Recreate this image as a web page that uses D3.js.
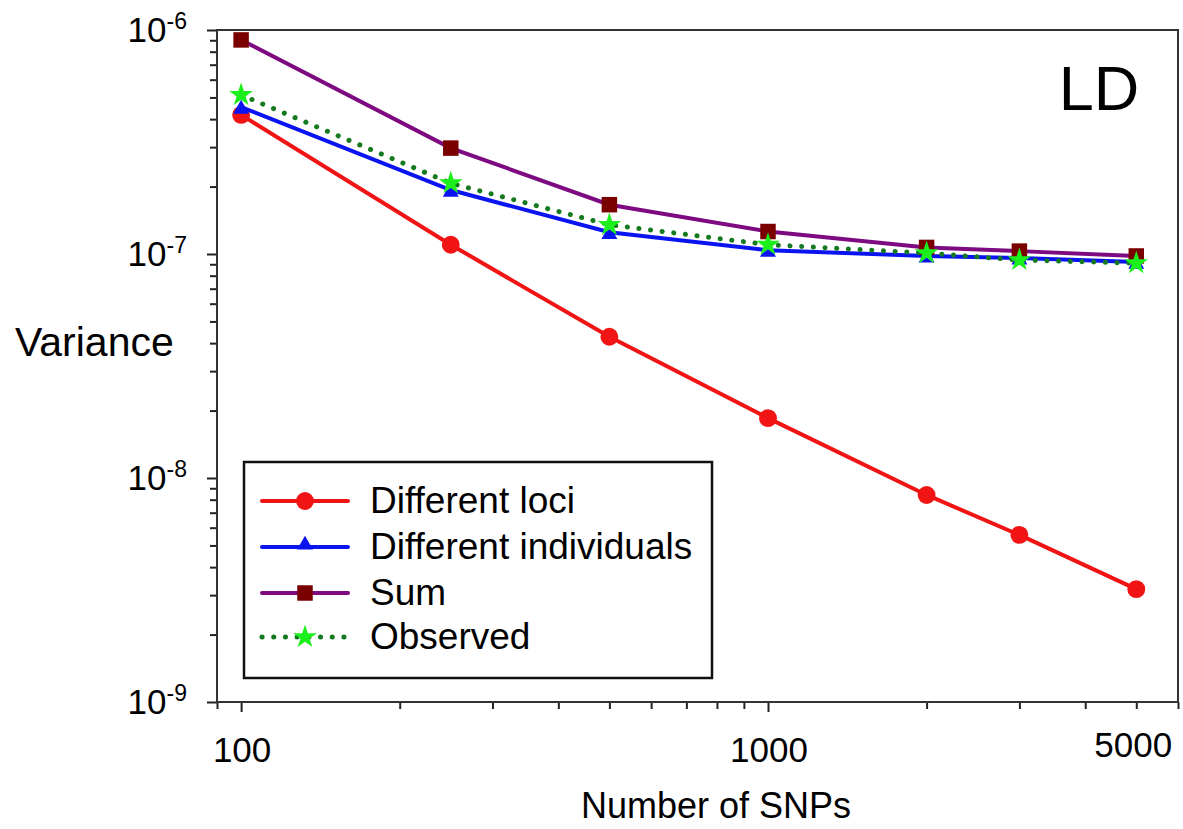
<!DOCTYPE html>
<html>
<head>
<meta charset="utf-8">
<script src="https://cdn.jsdelivr.net/npm/d3@7"></script>
<style>
  body { margin: 0; background: #fff; }
  text { font-family: "Liberation Sans", Arial, sans-serif; fill: #000; }
</style>
</head>
<body>
<svg id="chart" width="1183" height="829"></svg>
<script>
// Number of SNPs on the x axis
const snps = [100, 250, 500, 1000, 2000, 3000, 5000];

// Variance per series
const differentLoci = [4.18e-7, 1.10e-7, 4.27e-8, 1.85e-8, 8.4e-9, 5.57e-9, 3.19e-9];
const differentIndividuals = [4.53e-7, 1.93e-7, 1.25e-7, 1.04e-7, 9.8e-8, 9.6e-8, 9.2e-8];
const sumValues = [9.03e-7, 2.97e-7, 1.66e-7, 1.26e-7, 1.07e-7, 1.03e-7, 9.8e-8];
const observed = [5.13e-7, 2.07e-7, 1.35e-7, 1.10e-7, 1.01e-7, 9.4e-8, 9.1e-8];

const seriesNames = ["Different loci", "Different individuals", "Sum", "Observed"];

const xMajorTicks = [100, 1000, 5000];
const yMajorTicks = [1e-9, 1e-8, 1e-7, 1e-6];
const yExponents = ["-9", "-8", "-7", "-6"];

const svg = d3.select("#chart");

const plotLeft = 217, plotRight = 1178, plotTop = 30, plotBottom = 702;

const x = d3.scaleLog().domain([90, 6000]).range([plotLeft, plotRight]);
const y = d3.scaleLog().domain([1e-9, 1e-6]).range([plotBottom, plotTop]);

// Series styling
const series = [
  { name: seriesNames[0], values: differentLoci, line: "#f01414", fill: "#f01414", symbol: "circle" },
  { name: seriesNames[1], values: differentIndividuals, line: "#0a14f0", fill: "#0a14f0", symbol: "triangle" },
  { name: seriesNames[2], values: sumValues, line: "#7d0a80", fill: "#7a0000", symbol: "square" },
  { name: seriesNames[3], values: observed, line: "#157a1f", fill: "#1cf01c", symbol: "star", dotted: true }
];

const symbolFor = (s) => {
  if (s === "circle") return d3.symbol(d3.symbolCircle, 250)();
  if (s === "triangle") return d3.symbol(d3.symbolTriangle, 110)();
  if (s === "square") return d3.symbol(d3.symbolSquare, 240)();
  return d3.symbol(d3.symbolStar, 175)();
};

// Axes: minor and major ticks
const xMinor = x.ticks().filter((v) => v !== 100 && v !== 1000);
svg.append("g")
  .attr("transform", `translate(0,${plotBottom})`)
  .call(d3.axisBottom(x).tickValues(xMinor).tickSize(7).tickFormat(""))
  .call((g) => g.select(".domain").remove());

svg.append("g")
  .attr("transform", `translate(0,${plotBottom})`)
  .call(d3.axisBottom(x).tickValues([100, 1000]).tickSize(10).tickFormat(""))
  .call((g) => g.select(".domain").remove());

const yMinor = y.ticks().filter((v) => yMajorTicks.indexOf(v) < 0);
svg.append("g")
  .attr("transform", `translate(${plotLeft},0)`)
  .call(d3.axisLeft(y).tickValues(yMinor).tickSize(7).tickFormat(""))
  .call((g) => g.select(".domain").remove());

svg.append("g")
  .attr("transform", `translate(${plotLeft},0)`)
  .call(d3.axisLeft(y).tickValues(yMajorTicks).tickSize(10).tickFormat(""))
  .call((g) => g.select(".domain").remove());

svg.selectAll(".tick line").attr("stroke", "#222").attr("stroke-width", 2);

// Frame
svg.append("rect")
  .attr("x", plotLeft).attr("y", plotTop)
  .attr("width", plotRight - plotLeft).attr("height", plotBottom - plotTop)
  .attr("fill", "none").attr("stroke", "#333").attr("stroke-width", 2);

// X tick labels
svg.append("g").selectAll("text")
  .data(xMajorTicks)
  .join("text")
  .attr("x", (d) => x(d) + (d === 5000 ? -3 : 1))
  .attr("y", (d) => (d === 5000 ? 757 : 762))
  .attr("text-anchor", "middle")
  .attr("font-size", 35)
  .text((d) => d);

// Y tick labels with superscript exponent
const yl = svg.append("g").selectAll("text")
  .data(yMajorTicks)
  .join("text")
  .attr("x", 187)
  .attr("y", (d) => y(d) + 12)
  .attr("text-anchor", "end")
  .attr("font-size", 35);
yl.append("tspan").text("10");
yl.append("tspan")
  .attr("font-size", 23)
  .attr("dy", -13)
  .text((d, i) => yExponents[i]);

// Axis titles
svg.append("text")
  .attr("x", 15).attr("y", 356)
  .attr("font-size", 41)
  .text("Variance");

svg.append("text")
  .attr("x", 716).attr("y", 818)
  .attr("text-anchor", "middle")
  .attr("font-size", 36)
  .text("Number of SNPs");

svg.append("text")
  .attr("x", 1099).attr("y", 110)
  .attr("text-anchor", "middle")
  .attr("font-size", 63)
  .text("LD");

// Lines and markers
const line = d3.line()
  .x((d) => x(d[0]))
  .y((d) => y(d[1]));

series.forEach((s) => {
  const pts = snps.map((v, i) => [v, s.values[i]]);
  const g = svg.append("g");
  g.append("path")
    .datum(pts)
    .attr("d", line)
    .attr("fill", "none")
    .attr("stroke", s.line)
    .attr("stroke-width", s.dotted ? 5 : 4)
    .attr("stroke-linecap", s.dotted ? "round" : "butt")
    .attr("stroke-dasharray", s.dotted ? "0.1 11.6" : null);
  g.selectAll(".m")
    .data(pts)
    .join("path")
    .attr("transform", (d) => `translate(${x(d[0])},${y(d[1]) + (s.symbol === "triangle" ? 2 : 0)})`)
    .attr("d", symbolFor(s.symbol))
    .attr("fill", s.fill);
});

// Legend
const legend = svg.append("g");
legend.append("rect")
  .attr("x", 244).attr("y", 462)
  .attr("width", 468).attr("height", 216)
  .attr("fill", "#fff").attr("stroke", "#111").attr("stroke-width", 2.5);

const legendRows = [501, 547, 593, 637];
series.forEach((s, i) => {
  const ry = legendRows[i];
  legend.append("line")
    .attr("x1", 262).attr("x2", 348)
    .attr("y1", ry).attr("y2", ry)
    .attr("stroke", s.line)
    .attr("stroke-width", s.dotted ? 5 : 4)
    .attr("stroke-linecap", "round")
    .attr("stroke-dasharray", s.dotted ? "0.1 11.6" : null);
  legend.append("path")
    .attr("transform", `translate(305,${ry + (s.symbol === "triangle" ? -2 : 0)})`)
    .attr("d", symbolFor(s.symbol))
    .attr("fill", s.fill);
  legend.append("text")
    .attr("x", 370).attr("y", ry + 12)
    .attr("font-size", 37)
    .text(s.name);
});
</script>
</body>
</html>
